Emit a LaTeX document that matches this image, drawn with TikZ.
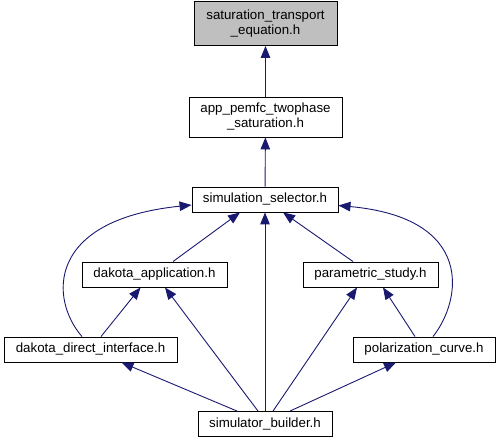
\documentclass[tikz,border=0pt]{standalone}
\usepackage{fontspec}
\setmainfont{Liberation Sans}
\usetikzlibrary{arrows.meta}
\definecolor{edgeblue}{HTML}{191970}
\definecolor{hdrgray}{HTML}{BFBFBF}
\begin{document}
\begin{tikzpicture}[x=1pt,y=-1pt,
  file/.style={draw=black, line width=0.9pt, fill=white, inner sep=0pt,
    align=center, font=\fontsize{13.3}{15}\selectfont},
  one/.style={file, minimum height=25},
  two/.style={file, minimum height=40},
  edge/.style={draw=edgeblue, line width=0.9pt,
    -{Triangle[length=12pt,width=9.5pt]}}]
\useasboundingbox (0,0) rectangle (500,443);

% header files
\node[two, fill=hdrgray, minimum width=143, minimum height=44] (sat) at (265.5,23.5) {saturation\_transport\\\_equation.h};
\node[two, minimum width=153] (app) at (265.5,117) {app\_pemfc\_twophase\\\_saturation.h};
\node[one, minimum width=146] (sel) at (265,199.5) {simulation\_selector.h};
\node[one, minimum width=145] (dapp) at (154.5,274.5) {dakota\_application.h};
\node[one, minimum width=135] (par) at (370.5,274.5) {parametric\_study.h};
\node[one, minimum width=173] (ddi) at (90.5,349.5) {dakota\_direct\_interface.h};
\node[one, minimum width=142] (pol) at (424,349.5) {polarization\_curve.h};
\node[one, minimum width=134] (sb) at (265,424) {simulator\_builder.h};

% include dependencies
\draw[edge] (app) -- (sat);
\draw[edge] (sel) -- (app);
\draw[edge] ([xshift=18.5pt]dapp.north) -- ([xshift=-25pt]sel.south);
\draw[edge] ([xshift=-17.5pt]par.north) -- ([xshift=18pt]sel.south);
\draw[edge] (sb) -- (sel);
\draw[edge] ([xshift=-8.5pt]ddi.north) .. controls (50,300) and (45,220) .. ([yshift=-5.5pt]sel.west);
\draw[edge] ([xshift=9pt]pol.north) .. controls (462,300) and (475,218) .. ([yshift=-6pt]sel.east);
\draw[edge] ([xshift=10.5pt]ddi.north) -- ([xshift=-14pt]dapp.south);
\draw[edge] ([xshift=-7pt]sb.north) -- ([xshift=10.5pt]dapp.south);
\draw[edge] ([xshift=8pt]sb.north) -- ([xshift=-13.5pt]par.south);
\draw[edge] ([xshift=-9pt]pol.north) -- ([xshift=12.5pt]par.south);
\draw[edge] ([xshift=-28pt]sb.north) -- ([xshift=31pt]ddi.south);
\draw[edge] ([xshift=25pt]sb.north) -- ([xshift=-28pt]pol.south);
\end{tikzpicture}
\end{document}
